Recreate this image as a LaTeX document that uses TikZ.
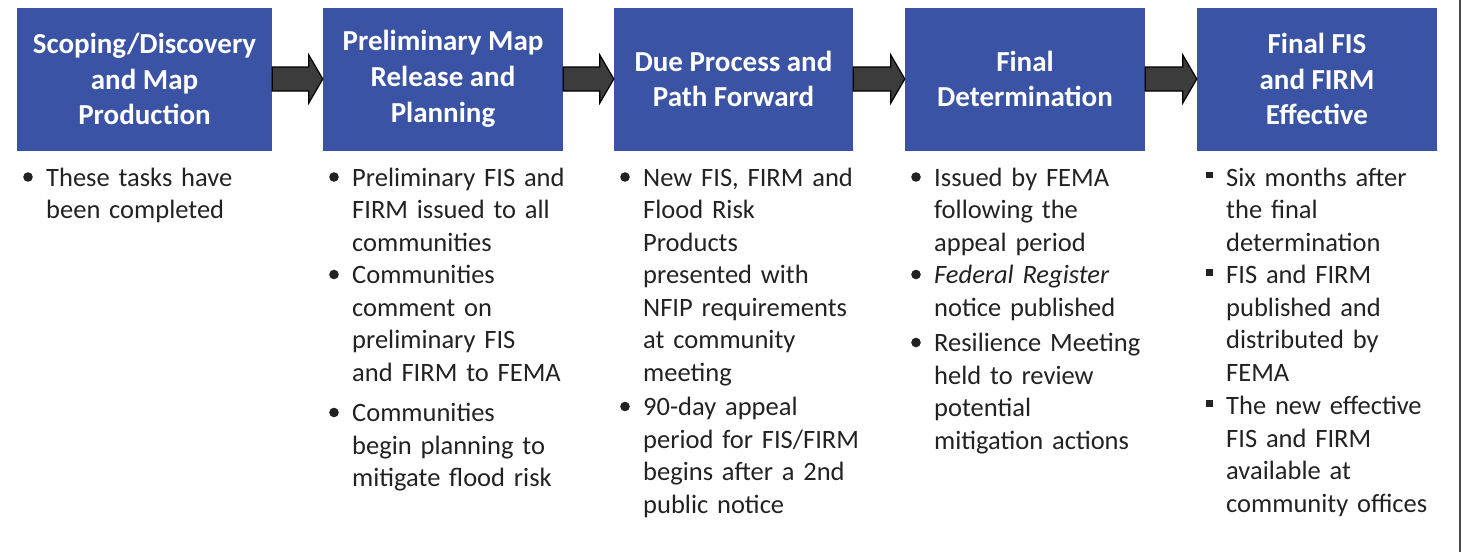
\documentclass[tikz,border=0pt]{standalone}
\usepackage{fontspec}
\setmainfont{Carlito}
\usepackage{tikz}

\definecolor{stageblue}{HTML}{3A53A4}
\definecolor{arrowgray}{HTML}{3C3C3C}
\definecolor{notegray}{HTML}{222222}
\definecolor{rulegray}{HTML}{4A4A4A}

% list items with a hanging indent; \itemgap separates them
\newcommand{\dotitem}{\hangindent=25pt\hangafter=1\noindent
    \makebox[25pt][l]{\hspace{2pt}\raisebox{4.2pt}{\tikz\fill[notegray] (0pt,0pt) circle (4.8pt);}}}
\newcommand{\boxitem}{\hangindent=25pt\hangafter=1\noindent
    \makebox[25pt][l]{\hspace{5pt}\raisebox{8pt}{\rule{6.5pt}{6.5pt}}}}
\newcommand{\itemgap}[1][0pt]{\par\vskip#1\relax}

\begin{document}
\begin{tikzpicture}[x=1pt,y=-1pt,
    stage/.style={fill=stageblue, text=white, inner sep=0pt, minimum height=143pt, align=center,
                  font=\fontsize{29}{35.8}\selectfont\bfseries},
    notes/.style={anchor=base west, inner sep=0pt, text width=262pt, align=left, text=notegray,
                  font=\fontsize{26.5}{32.5}\selectfont},
    flowarrow/.style={fill=arrowgray, draw=black, line width=1.2pt, line join=miter}]
    \useasboundingbox (0,0) rectangle (1483,552);

    \coordinate (C1) at (144.5, 79);
    \coordinate (C2) at (443, 79);
    \coordinate (C3) at (733.5, 79);
    \coordinate (C4) at (1025, 79);
    \coordinate (C5) at (1317, 79);

    % stage boxes
    \node[stage, minimum width=255pt] (s1) at (C1) {Scoping/Discovery\\and Map\\Production};
    \node[stage, minimum width=240pt] (s2) at (C2) {Preliminary Map\\Release and\\Planning};
    \node[stage, minimum width=239pt] (s3) at (C3) {Due Process and\\Path Forward};
    \node[stage, minimum width=240pt] (s4) at (C4) {Final\\Determination};
    \node[stage, minimum width=240pt] (s5) at (C5) {Final FIS\\and FIRM\\Effective};

    % block arrows between stages
    \foreach \a/\b in {s1/s2, s2/s3, s3/s4, s4/s5}
        \draw[flowarrow] ([yshift=12pt]\a.east) -- ([xshift=-14pt,yshift=12pt]\b.west)
            -- ([xshift=-14pt,yshift=24pt]\b.west) -- (\b.west)
            -- ([xshift=-14pt,yshift=-24pt]\b.west) -- ([xshift=-14pt,yshift=-12pt]\b.west)
            -- ([yshift=-12pt]\a.east) -- cycle;

    % bullet lists
    \node[notes] (n1) at (21, 186) {\dotitem These tasks have\newline been completed\par};
    \node[notes] (n2) at (327, 186) {\dotitem Preliminary FIS and\newline FIRM issued to all\newline communities
        \itemgap\dotitem Communities\newline comment on\newline preliminary FIS\newline and FIRM to FEMA
        \itemgap[8pt]\dotitem Communities\newline begin planning to\newline mitigate flood risk\par};
    \node[notes] (n3) at (618, 186) {\dotitem New FIS, FIRM and\newline Flood Risk\newline Products\newline presented with\newline NFIP requirements\newline at community\newline meeting
        \itemgap[2pt]\dotitem 90-day appeal\newline period for FIS/FIRM\newline begins after a 2nd\newline public notice\par};
    \node[notes] (n4) at (909, 186) {\dotitem Issued by FEMA\newline following the\newline appeal period
        \itemgap\dotitem \textit{Federal Register}\newline notice published
        \itemgap[3pt]\dotitem Resilience Meeting\newline held to review\newline potential\newline mitigation actions\par};
    \node[notes] (n5) at (1201, 186) {\boxitem Six months after\newline the final\newline determination
        \itemgap\boxitem FIS and FIRM\newline published and\newline distributed by\newline FEMA
        \itemgap[1pt]\boxitem The new effective\newline FIS and FIRM\newline available at\newline community offices\par};

    % right edge rule
    \coordinate (R1) at (1460, 0);
    \coordinate (R2) at (1460, 552);
    \draw[rulegray, line width=2pt] (R1) -- (R2);
\end{tikzpicture}
\end{document}
